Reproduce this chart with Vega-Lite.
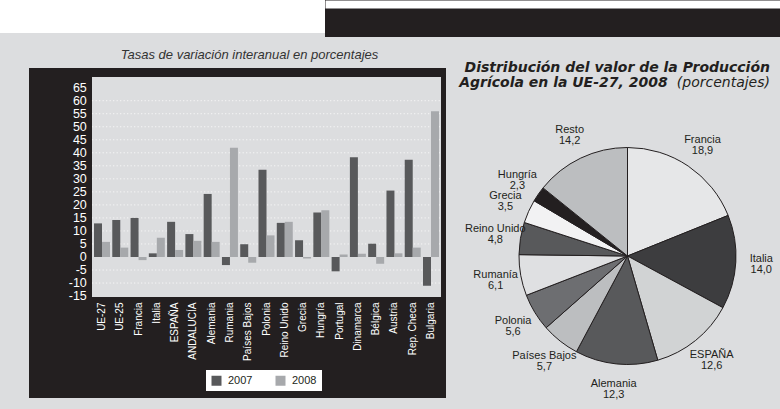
{
  "$schema": "https://vega.github.io/schema/vega-lite/v6.json",
  "background": "#dcdddf",
  "padding": 0,
  "bounds": "flush",
  "spacing": 68,
  "resolve": {"scale": {"color": "independent"}, "legend": {"color": "independent"}},
  "config": {
    "view": {"stroke": null},
    "font": "Liberation Sans",
    "locale": {"number": {"decimal": ",", "thousands": ".", "grouping": [3], "currency": ["", " €"], "minus": "-"}}
  },
  "vconcat": [
    {
      "bounds": "flush",
      "spacing": 0,
      "hconcat": [
        {
          "width": 325, "height": 33,
          "view": {"fill": "#ffffff", "stroke": null},
          "data": {"values": [{}]},
          "mark": {"type": "rect", "opacity": 0},
          "encoding": {}
        },
        {
          "width": 455, "height": 37,
          "view": {"fill": "#231f20", "stroke": null},
          "data": {"values": [{"p": 0}]},
          "mark": {"type": "rule", "opacity": 0},
          "encoding": {
            "x": {"field": "p", "type": "quantitative", "scale": {"domain": [0, 455]},
              "axis": {"orient": "top", "offset": -4, "domainColor": "#ffffff", "domainWidth": 8, "ticks": false, "labels": false, "grid": false, "title": null}}
          }
        }
      ]
    },
    {
      "bounds": "flush",
      "spacing": 0,
      "resolve": {"scale": {"color": "independent"}, "legend": {"color": "independent"}},
      "hconcat": [
        {
          "width": 29, "height": 10,
          "data": {"values": [{}]},
          "mark": {"type": "rect", "opacity": 0},
          "encoding": {}
        },
        {
          "width": 417, "height": 330,
          "view": {"fill": "#231f20", "stroke": null},
          "title": {"text": "Tasas de variación interanual en porcentajes", "font": "Liberation Sans", "fontSize": 13, "fontStyle": "italic", "fontWeight": "normal", "color": "#333333", "anchor": "middle", "frame": "group", "dx": 12, "offset": 6},
          "data": {"values": [
            {"pais": "UE-27", "anio": "2007", "valor": 12.9}, {"pais": "UE-27", "anio": "2008", "valor": 5.8},
            {"pais": "UE-25", "anio": "2007", "valor": 14.2}, {"pais": "UE-25", "anio": "2008", "valor": 3.6},
            {"pais": "Francia", "anio": "2007", "valor": 15.0}, {"pais": "Francia", "anio": "2008", "valor": -1.2},
            {"pais": "Italia", "anio": "2007", "valor": 1.4}, {"pais": "Italia", "anio": "2008", "valor": 7.4},
            {"pais": "ESPAÑA", "anio": "2007", "valor": 13.5}, {"pais": "ESPAÑA", "anio": "2008", "valor": 2.7},
            {"pais": "ANDALUCÍA", "anio": "2007", "valor": 8.8}, {"pais": "ANDALUCÍA", "anio": "2008", "valor": 6.2},
            {"pais": "Alemania", "anio": "2007", "valor": 24.2}, {"pais": "Alemania", "anio": "2008", "valor": 5.8},
            {"pais": "Rumania", "anio": "2007", "valor": -3.1}, {"pais": "Rumania", "anio": "2008", "valor": 41.9},
            {"pais": "Países Bajos", "anio": "2007", "valor": 4.9}, {"pais": "Países Bajos", "anio": "2008", "valor": -2.2},
            {"pais": "Polonia", "anio": "2007", "valor": 33.5}, {"pais": "Polonia", "anio": "2008", "valor": 8.3},
            {"pais": "Reino Unido", "anio": "2007", "valor": 13.1}, {"pais": "Reino Unido", "anio": "2008", "valor": 13.5},
            {"pais": "Grecia", "anio": "2007", "valor": 6.4}, {"pais": "Grecia", "anio": "2008", "valor": -0.6},
            {"pais": "Hungría", "anio": "2007", "valor": 17.1}, {"pais": "Hungría", "anio": "2008", "valor": 17.9},
            {"pais": "Portugal", "anio": "2007", "valor": -5.5}, {"pais": "Portugal", "anio": "2008", "valor": 1.0},
            {"pais": "Dinamarca", "anio": "2007", "valor": 38.3}, {"pais": "Dinamarca", "anio": "2008", "valor": 1.2},
            {"pais": "Bélgica", "anio": "2007", "valor": 5.1}, {"pais": "Bélgica", "anio": "2008", "valor": -2.6},
            {"pais": "Austria", "anio": "2007", "valor": 25.5}, {"pais": "Austria", "anio": "2008", "valor": 1.4},
            {"pais": "Rep. Checa", "anio": "2007", "valor": 37.3}, {"pais": "Rep. Checa", "anio": "2008", "valor": 3.6},
            {"pais": "Bulgaria", "anio": "2007", "valor": -11.0}, {"pais": "Bulgaria", "anio": "2008", "valor": 55.9}
          ]},
          "layer": [
            {
              "mark": {"type": "rect", "color": "#dcdddf"},
              "encoding": {
                "x": {"datum": "UE-27", "type": "nominal", "bandPosition": -0.12},
                "x2": {"datum": "Bulgaria", "bandPosition": 1.12},
                "y": {"datum": 69.1, "type": "quantitative", "title": null, "axis": null,
                  "scale": {"domain": [-54.13, 72.55], "nice": false, "zero": false}},
                "y2": {"datum": -15.35}
              }
            },
            {
              "data": {"values": [{"g": -10}, {"g": -5}, {"g": 5}, {"g": 10}, {"g": 15}, {"g": 20}, {"g": 25}, {"g": 30}, {"g": 35}, {"g": 40}, {"g": 45}, {"g": 50}, {"g": 55}, {"g": 60}]},
              "mark": {"type": "rule", "color": "#f7f7f7", "strokeWidth": 1, "strokeDash": [1.2, 2.3]},
              "encoding": {
                "x": {"datum": "UE-27", "type": "nominal", "bandPosition": -0.12},
                "x2": {"datum": "Bulgaria", "bandPosition": 1.12},
                "y": {"field": "g", "type": "quantitative", "title": null, "axis": null}
              }
            },
            {
              "data": {"values": [{"t": -15}, {"t": -10}, {"t": -5}, {"t": 0}, {"t": 5}, {"t": 10}, {"t": 15}, {"t": 20}, {"t": 25}, {"t": 30}, {"t": 35}, {"t": 40}, {"t": 45}, {"t": 50}, {"t": 55}, {"t": 60}, {"t": 65}]},
              "mark": {"type": "text", "align": "right", "baseline": "middle", "color": "#ffffff", "fontSize": 12.5, "font": "Liberation Sans"},
              "encoding": {
                "x": {"datum": "UE-27", "type": "nominal", "bandPosition": -0.45},
                "y": {"field": "t", "type": "quantitative", "title": null, "axis": null},
                "text": {"field": "t", "type": "quantitative", "format": "d"}
              }
            },
            {
              "mark": {"type": "bar"},
              "encoding": {
                "x": {"field": "pais", "type": "nominal",
                  "scale": {"domain": ["UE-27", "UE-25", "Francia", "Italia", "ESPAÑA", "ANDALUCÍA", "Alemania", "Rumania", "Países Bajos", "Polonia", "Reino Unido", "Grecia", "Hungría", "Portugal", "Dinamarca", "Bélgica", "Austria", "Rep. Checa", "Bulgaria"], "range": [65, 410], "paddingInner": 0.125, "paddingOuter": 0},
                  "axis": {"orient": "bottom", "offset": -101, "labelAngle": -90, "labelColor": "#ffffff", "labelFont": "Liberation Sans", "labelFontSize": 10, "labelPadding": 5, "domain": false, "ticks": false, "grid": false, "title": null}},
                "xOffset": {"field": "anio", "type": "nominal"},
                "y": {"field": "valor", "type": "quantitative", "title": null, "axis": null},
                "color": {"field": "anio", "type": "nominal",
                  "scale": {"domain": ["2007", "2008"], "range": ["#58595b", "#a7a9ac"]},
                  "legend": {"orient": "none", "legendX": 177, "legendY": 302, "direction": "horizontal", "title": null, "fillColor": "#ffffff", "padding": 5, "symbolType": "square", "symbolSize": 100, "symbolStrokeWidth": 0, "labelFont": "Liberation Sans", "labelFontSize": 11, "labelColor": "#231f20", "columnPadding": 22, "labelOffset": 6}}
              }
            }
          ]
        },
        {
          "width": 39, "height": 10,
          "data": {"values": [{}]},
          "mark": {"type": "rect", "opacity": 0},
          "encoding": {}
        },
        {
          "width": 285, "height": 376,
          "title": {
            "text": ["Distribución del valor de la Producción", "Agrícola en la UE-27, 2008\u00a0\u00a0\u00a0\u00a0\u00a0\u00a0\u00a0\u00a0\u00a0\u00a0\u00a0\u00a0\u00a0\u00a0\u00a0\u00a0\u00a0\u00a0\u00a0\u00a0\u00a0\u200b"],
            "subtitle": "(porcentajes)",
            "anchor": "end", "frame": "group",
            "font": "DejaVu Sans", "fontSize": 14, "fontWeight": "bold", "fontStyle": "italic", "color": "#231f20",
            "lineHeight": 15, "baseline": "alphabetic", "offset": 0, "dy": 33,
            "subtitleFont": "DejaVu Sans", "subtitleFontSize": 14, "subtitleFontStyle": "italic", "subtitleFontWeight": "normal", "subtitleColor": "#231f20",
            "subtitlePadding": -14
          },
          "data": {"values": [
            {"pais": "Francia", "v": 18.9, "o": 1},
            {"pais": "Italia", "v": 14.0, "o": 2},
            {"pais": "ESPAÑA", "v": 12.6, "o": 3},
            {"pais": "Alemania", "v": 12.3, "o": 4},
            {"pais": "Países Bajos", "v": 5.7, "o": 5},
            {"pais": "Polonia", "v": 5.6, "o": 6},
            {"pais": "Rumanía", "v": 6.1, "o": 7},
            {"pais": "Reino Unido", "v": 4.8, "o": 8},
            {"pais": "Grecia", "v": 3.5, "o": 9},
            {"pais": "Hungría", "v": 2.3, "o": 10},
            {"pais": "Resto", "v": 14.2, "o": 11}
          ]},
          "encoding": {
            "theta": {"field": "v", "type": "quantitative", "stack": true},
            "order": {"field": "o", "type": "quantitative"}
          },
          "layer": [
            {
              "mark": {"type": "arc", "outerRadius": 108.5, "stroke": "#231f20", "strokeWidth": 1},
              "encoding": {
                "color": {"field": "pais", "type": "nominal", "legend": null,
                  "scale": {"domain": ["Francia", "Italia", "ESPAÑA", "Alemania", "Países Bajos", "Polonia", "Rumanía", "Reino Unido", "Grecia", "Hungría", "Resto"],
                    "range": ["#e6e7e8", "#3d3d3f", "#d1d3d4", "#58595b", "#bcbec0", "#6d6e71", "#dfe0e2", "#58595b", "#f2f2f3", "#231f20", "#bcbec0"]}}
              }
            },
            {
              "mark": {"type": "text", "radius": 134, "dy": -5, "fontSize": 11, "font": "Liberation Sans", "color": "#231f20"},
              "encoding": {"text": {"field": "pais", "type": "nominal"}}
            },
            {
              "mark": {"type": "text", "radius": 134, "dy": 6, "fontSize": 11, "font": "Liberation Sans", "color": "#231f20"},
              "encoding": {"text": {"field": "v", "type": "quantitative", "format": ".1f"}}
            }
          ]
        }
      ]
    }
  ]
}
